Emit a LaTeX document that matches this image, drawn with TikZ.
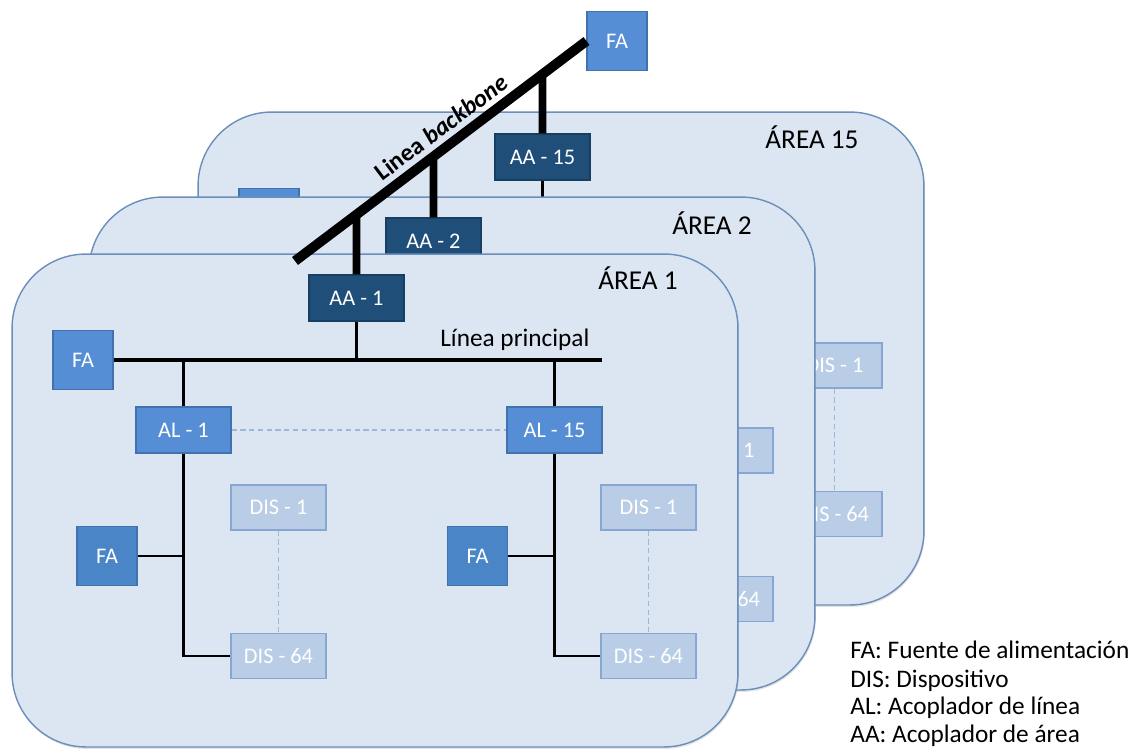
\documentclass[tikz,border=0pt]{standalone}
\usepackage{fontspec}
\setmainfont{Carlito}
\usetikzlibrary{shadows}

\definecolor{panelfill}{HTML}{DCE6F2}
\definecolor{paneledge}{HTML}{6C8EBA}
\definecolor{midblue}{HTML}{558ED5}
\definecolor{midedge}{HTML}{3F72AE}
\definecolor{fablue}{HTML}{4A85C7}
\definecolor{darkblue}{HTML}{1F4E79}
\definecolor{darkedge}{HTML}{183E61}
\definecolor{paleblue}{HTML}{B9CDE6}
\definecolor{paleedge}{HTML}{85A7D2}
\definecolor{linkdash}{HTML}{9DB7DA}

\begin{document}
\begin{tikzpicture}[x=0.02cm, y=-0.02cm,
  panel/.style={draw=paneledge, line width=0.8pt, fill=panelfill,
    rounded corners=42pt, inner sep=0pt,
    minimum width=14.52cm, minimum height=9.86cm,
    drop shadow={shadow xshift=0.5pt, shadow yshift=-1.1pt, opacity=0.22}},
  boxbase/.style={line width=0.6pt, inner sep=0pt, text=white,
    font=\fontsize{12.7}{14}\selectfont},
  fabox/.style={boxbase, draw=midedge, fill=midblue,
    minimum width=1.2cm, minimum height=1.18cm},
  falow/.style={fabox, fill=fablue},
  albox/.style={boxbase, draw=midedge, fill=midblue,
    minimum width=1.9cm, minimum height=0.92cm},
  aabox/.style={boxbase, draw=darkedge, fill=darkblue,
    minimum width=1.9cm, minimum height=0.92cm},
  disbox/.style={boxbase, draw=paleedge, fill=paleblue,
    minimum width=1.9cm, minimum height=0.9cm},
  arealabel/.style={anchor=base, inner sep=0pt, font=\fontsize{15.5}{18}\selectfont},
  legend/.style={anchor=base west, inner sep=0pt, font=\fontsize{14.4}{16}\selectfont},
  backbone/.style={line width=5.6pt, line cap=butt},
  stem/.style={line width=4.5pt, line cap=butt},
  mainline/.style={line width=1.9pt},
  subline/.style={line width=1.3pt},
  dashlink/.style={draw=linkdash, line width=0.6pt, dash pattern=on 3pt off 2pt}
]
% page
\fill[white] (0,0) rectangle (1137,751);
\useasboundingbox (0,0) rectangle (1137,751);

% ---- area 15 (back) ----
\node[panel] (p15) at (561,358.5) {};
\node[arealabel] (t15) at (812,148) {ÁREA 15};
\node[fabox] (fa15) at (269,218) {};
\node[aabox] (aa15) at (542.5,157) {AA - 15};
\coordinate (ml15) at (542.5,218);
\draw[mainline] (aa15.south) -- (ml15);
\node[disbox] (d15a) at (834.5,365.5) {DIS - 1};
\node[disbox] (d15b) at (834.5,514) {DIS - 64};
\draw[dashlink] (d15a) -- (d15b);

% ---- area 2 (middle) ----
\node[panel] (p2) at (452,443.5) {};
\node[arealabel] (t2) at (712,234) {ÁREA 2};
\node[aabox] (aa2) at (433.5,241) {AA - 2};
\node[disbox] (d2a) at (725.5,450.5) {DIS - 1};
\node[disbox] (d2b) at (725.5,599) {DIS - 64};

% ---- area 1 (front) ----
\node[panel] (p1) at (375,500.5) {};
\node[arealabel] (t1) at (638,289) {ÁREA 1};
\node[aabox] (aa1) at (356.5,298) {AA - 1};
\node[fabox] (fa1) at (83,360) {FA};
\coordinate (mlend) at (602,360);
\draw[mainline] (fa1.east) -- (mlend);
\node[legend] (mltext) at (440,346) {Línea principal};
\draw[mainline] (aa1.south) -- (aa1.south |- mlend);

\node[albox] (al1) at (183.5,430) {AL - 1};
\node[albox] (al15) at (554.5,430) {AL - 15};
\draw[mainline] (al1.north) -- (al1.north |- mlend);
\draw[mainline] (al15.north) -- (al15.north |- mlend);
\draw[dashlink] (al1.east) -- (al15.west);

% line 1
\node[falow] (fa1a) at (107,556) {FA};
\node[disbox] (d1a) at (278.5,507.5) {DIS - 1};
\node[disbox] (d64a) at (278.5,656) {DIS - 64};
\draw[subline] (al1.south) |- (d64a.west);
\draw[subline] (fa1a.east) -- (fa1a.east -| al1.south);
\draw[dashlink] (d1a) -- (d64a);

% line 15
\node[falow] (fa1b) at (477.5,556) {FA};
\node[disbox] (d1b) at (648.5,507.5) {DIS - 1};
\node[disbox] (d64b) at (648.5,656) {DIS - 64};
\draw[subline] (al15.south) |- (d64b.west);
\draw[subline] (fa1b.east) -- (fa1b.east -| al15.south);
\draw[dashlink] (d1b) -- (d64b);

% ---- backbone ----
\node[fabox] (fatop) at (617,41) {FA};
\coordinate (bbend) at (295,261);
\draw[backbone] (bbend) -- node[pos=0.54, sloped, above=3pt, inner sep=0pt,
   font=\fontsize{14}{16}\selectfont\bfseries] (bblabel) {Linea \textit{backbone}} (fatop.west);
\draw[stem] (intersection of bbend--fatop.west and aa1.north--aa1.south) -- (aa1.north);
\draw[stem] (intersection of bbend--fatop.west and aa2.north--aa2.south) -- (aa2.north);
\draw[stem] (intersection of bbend--fatop.west and aa15.north--aa15.south) -- (aa15.north);

% ---- legend ----
\node[legend] (lg1) at (850,658) {FA: Fuente de alimentación};
\node[legend] (lg2) at (850,687) {DIS: Dispositivo};
\node[legend] (lg3) at (850,714) {AL: Acoplador de línea};
\node[legend] (lg4) at (850,742) {AA: Acoplador de área};
\end{tikzpicture}
\end{document}
